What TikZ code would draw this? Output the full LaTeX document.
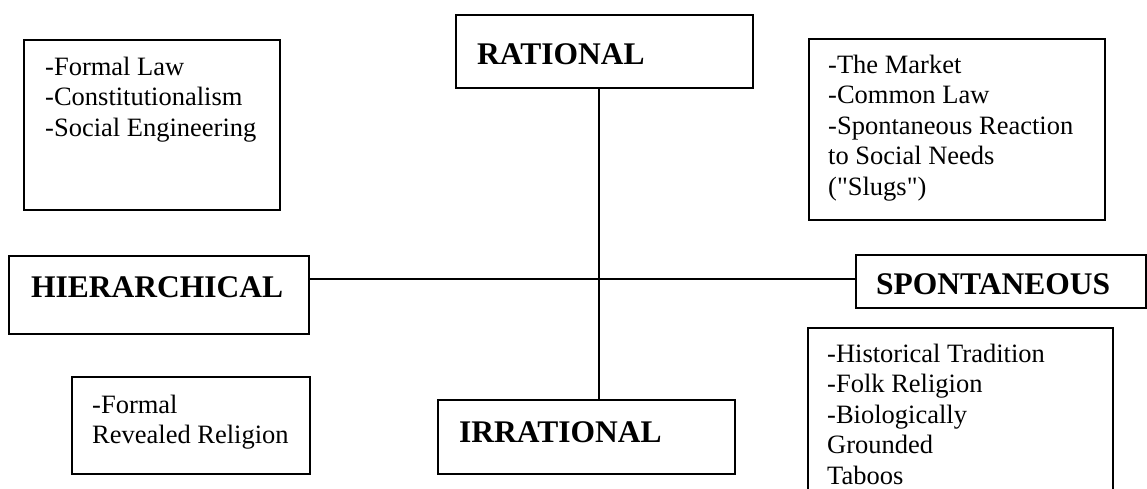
\documentclass[tikz,border=0pt]{standalone}
\usepackage{fontspec}
\setmainfont{Liberation Serif}
\begin{document}
\begin{tikzpicture}[x=1pt,y=1pt,
  frame/.style={draw, line width=1.5pt, inner sep=0pt, anchor=north west},
  bodytext/.style={inner sep=0pt, anchor=base west, align=left,
    font=\fontsize{26.5}{30.5}\selectfont},
  headtext/.style={inner sep=0pt, anchor=base west,
    font=\fontsize{31.5}{36}\selectfont\bfseries},
  link/.style={line width=1.4pt}]
\useasboundingbox (0,0) rectangle (1147,-488);
\clip (0,0) rectangle (1147,-488);

% axis boxes
\node[frame, minimum width=297pt, minimum height=73pt] (rat) at (455,-14) {};
\node[frame, minimum width=297pt, minimum height=74pt] (irr) at (437,-399) {};
\node[frame, minimum width=300pt, minimum height=78pt] (hier) at (8,-255) {};
\node[frame, minimum width=290pt, minimum height=53pt] (spont) at (855,-254) {};

\node[headtext] (ratT) at (477,-64) {RATIONAL};
\node[headtext] (irrT) at (459,-442) {IRRATIONAL};
\node[headtext] (hierT) at (31,-297) {HIERARCHICAL};
\node[headtext] (spontT) at (876,-294) {SPONTANEOUS};

% quadrant boxes
\node[frame, minimum width=256pt, minimum height=170pt] (q1) at (23,-39) {};
\node[frame, minimum width=296pt, minimum height=181pt] (q2) at (808,-38) {};
\node[frame, minimum width=238pt, minimum height=97pt] (q3) at (71,-376) {};
\node[frame, minimum width=305pt, minimum height=200pt] (q4) at (807,-327) {};

% multi-line texts: the base anchor sits on the last line
\node[bodytext] (q1T) at (45,-136) {-Formal Law\\-Constitutionalism\\-Social Engineering};
\node[bodytext] (q2T) at (828,-195) {-The Market\\-Common Law\\-Spontaneous Reaction\\to Social Needs\\(\textquotedbl Slugs\textquotedbl)};
\node[bodytext] (q3T) at (92,-443.5) {-Formal\\Revealed Religion};
\node[bodytext] (q4T) at (827,-484) {-Historical Tradition\\-Folk Religion\\-Biologically\\Grounded\\Taboos};

% axes
\coordinate (vx) at (599,0);
\coordinate (hy) at (0,-279);
\draw[link] (rat.south -| vx) -- (irr.north -| vx);
\draw[link] (hier.east |- hy) -- (spont.west |- hy);
\end{tikzpicture}
\end{document}
